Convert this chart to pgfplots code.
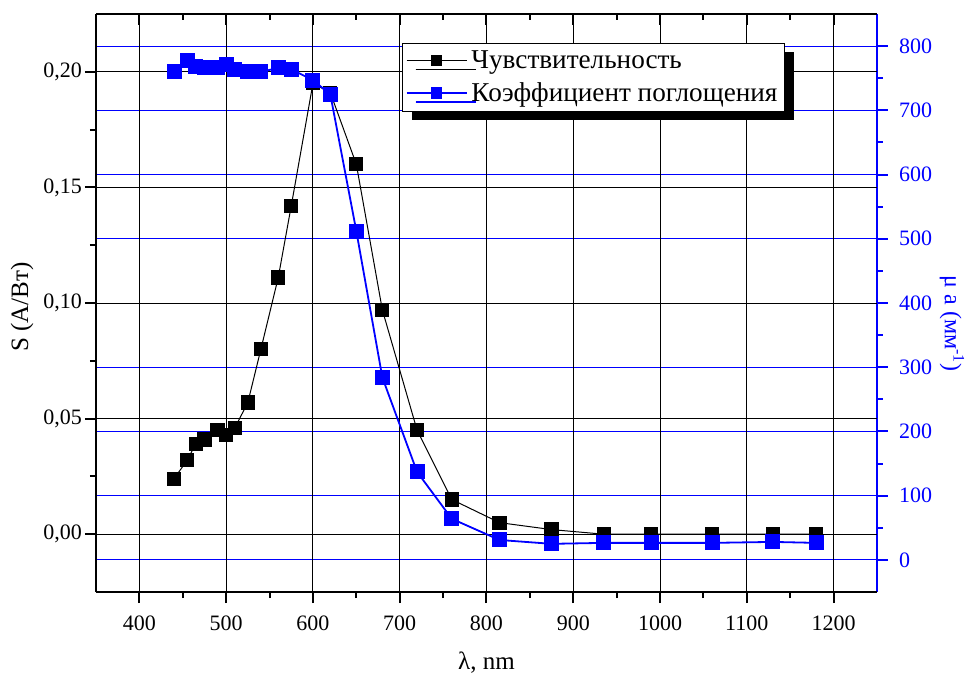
\documentclass[border=0pt]{standalone}
\usepackage{fontspec}
\setmainfont{Liberation Serif}
\usepackage{pgfplots}
\usepackage{pgfplotstable}
\pgfplotsset{compat=1.18}
\usetikzlibrary{shadows}

\pgfplotstableread{
x S mu
440 0.024 761
455 0.032 778
465 0.039 769
475 0.041 767
490 0.045 767
500 0.043 771
510 0.046 764
525 0.057 760
540 0.080 760
560 0.111 766
575 0.142 764
600 0.195 747
620 0.191 725
650 0.160 512
680 0.097 284
720 0.045 137
760 0.015 64
815 0.005 31
875 0.002 25
935 0.000 26.5
990 0.000 26.5
1060 0.000 26.5
1130 0.000 28
1180 0.000 26.5
}\datatable

\pgfplotsset{
  base/.style={
    scale only axis, width=390.5pt, height=289pt,
    at={(0,0)}, anchor=south west,
    xmin=350, xmax=1250,
    xtick={400,500,...,1200}, minor x tick num=1,
    tick align=outside,
    major tick length=5.5pt, minor tick length=3pt,
    every tick label/.append style={font=\fontsize{11}{13}\selectfont},
    /pgf/number format/assume math mode=true,
    xticklabel style={/pgf/number format/set thousands separator={}, yshift=-3pt},
    axis line style={line width=1.2pt},
    every tick/.style={line width=1pt},
    clip=false,
  },
}

\begin{document}
\begin{tikzpicture}
% right axis with blue grid
\begin{axis}[base,
  axis x line=none, axis y line*=right,
  ymin=-50, ymax=850,
  ytick={0,100,...,800}, minor y tick num=1,
  ymajorgrids,
  major grid style={blue, line width=0.5pt},
  y axis line style={blue, line width=1.2pt},
  every y tick/.style={blue, line width=1pt},
  yticklabel style={text=blue, xshift=2pt},
  ylabel={μ a (мм\textsuperscript{-1})},
  every axis y label/.style={at={(rel axis cs:1,0.464)}, xshift=37.5pt, rotate=-90, anchor=center, text=blue, font=\fontsize{12}{14}\selectfont},
]
\end{axis}
% left axis, black data
\begin{axis}[base,
  axis x line*=bottom, axis y line*=left,
  ymin=-0.025, ymax=0.225,
  ytick={0,0.05,0.1,0.15,0.2}, minor y tick num=1,
  xmajorgrids, ymajorgrids,
  major grid style={black, line width=0.5pt},
  yticklabel style={/pgf/number format/.cd, fixed, fixed zerofill, precision=2, use comma, /tikz/.cd, xshift=2pt},
  xlabel={λ, nm},
  ylabel={S (A/Вт)},
  every axis x label/.style={at={(rel axis cs:0.5,0)}, yshift=-35.5pt, anchor=center, font=\fontsize{12.5}{14}\selectfont},
  every axis y label/.style={at={(rel axis cs:0,0.493)}, xshift=-37pt, rotate=90, anchor=center, font=\fontsize{12.5}{14}\selectfont},
]
\addplot[black, line width=0.5pt, mark=square*, mark size=3.3pt, mark options={fill=black, draw=black}] table[x=x, y=S] {\datatable};
\end{axis}
% top axis, inner ticks
\begin{axis}[base,
  axis x line*=top, axis y line=none,
  tick align=inside,
  xticklabels={},
  ymin=0, ymax=1,
]
\end{axis}
% blue data with legend
\begin{axis}[base,
  axis x line=none, axis y line=none,
  ymin=-50, ymax=850,
  legend style={at={(0.392,0.95)}, anchor=north west, draw=black, line width=0.5pt,
    fill=white, font=\fontsize{13.6}{16}\selectfont,
    drop shadow={shadow xshift=4.5pt, shadow yshift=-4.5pt, fill=black, opacity=1},
    row sep=1.5pt, inner sep=1.5pt},
  legend cell align=left,
  legend image code/.code={%
    \draw[#1, mark=none] (0pt,0pt) -- (30pt,0pt);
    \draw[#1, draw=none, mark size=2.5pt] plot coordinates {(15pt,0pt)};},
]
\addlegendimage{black, line width=0.5pt, mark=square*, mark options={fill=black, draw=black}}
\addlegendentry{Чувствительность}
\addplot[blue, line width=0.9pt, mark=square*, mark size=3.3pt, mark options={fill=blue, draw=blue}] table[x=x, y=mu] {\datatable};
\addlegendentry{Коэффициент поглощения}
\end{axis}
\pgfresetboundingbox
\path (-48pt,-42.5pt) rectangle (439.5pt,296pt);
\end{tikzpicture}
\end{document}
